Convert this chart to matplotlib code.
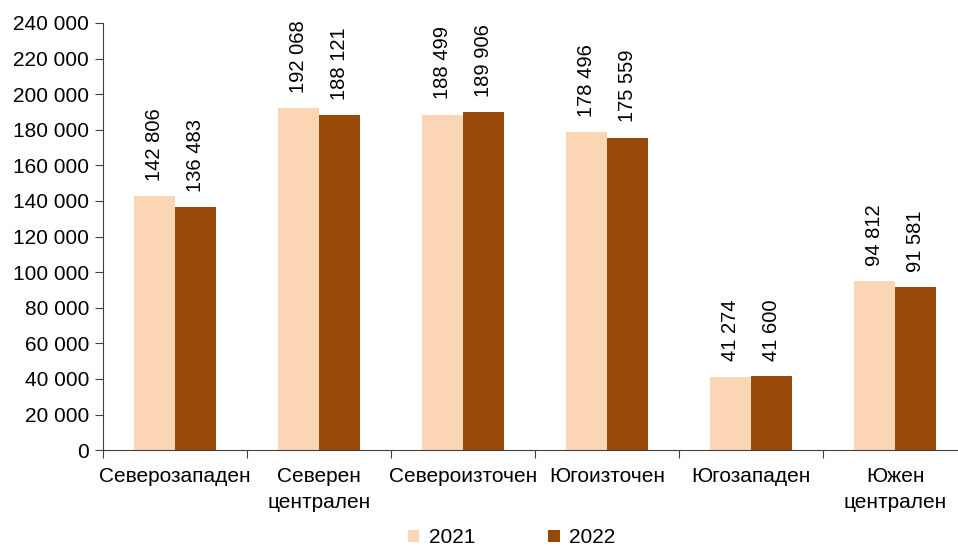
import numpy as np
import matplotlib.pyplot as plt

regions = ['Северозападен', 'Северен\nцентрален', 'Североизточен',
           'Югоизточен', 'Югозападен', 'Южен\nцентрален']
vals_2021 = [142806, 192068, 188499, 178496, 41274, 94812]
vals_2022 = [136483, 188121, 189906, 175559, 41600, 91581]
years = ['2021', '2022']
colors = ['#FCD5B5', '#984807']

plt.rcParams['font.family'] = ['Liberation Sans', 'DejaVu Sans']
plt.rcParams['font.size'] = 15


def fmt(v):
    return '{:,}'.format(int(v)).replace(',', ' ')


fig = plt.figure(figsize=(9.58, 5.47), dpi=100)
ax = fig.add_axes([0.1075, 0.177, 0.9019, 0.781])

x = np.arange(len(regions))
w = 0.285
b1 = ax.bar(x - w / 2, vals_2021, w, color=colors[0], label=years[0])
b2 = ax.bar(x + w / 2, vals_2022, w, color=colors[1], label=years[1])

for bars, vals in [(b1, vals_2021), (b2, vals_2022)]:
    for r, v in zip(bars, vals):
        ax.annotate(fmt(v), (r.get_x() + r.get_width() / 2, v),
                    xytext=(0, 11), textcoords='offset points',
                    rotation=90, ha='center', va='bottom', fontsize=14.5)

ax.set_ylim(0, 240000)
ax.set_yticks(np.arange(0, 240001, 20000))
ax.set_yticklabels([fmt(t) for t in np.arange(0, 240001, 20000)])
ax.set_xlim(-0.5, len(regions) - 0.5)
ax.set_xticks(np.arange(-0.5, len(regions), 1.0))
ax.set_xticklabels([])
ax.set_xticks(x, minor=True)
ax.set_xticklabels(regions, minor=True, linespacing=1.45)
ax.tick_params(axis='x', which='minor', length=0, pad=12)
ax.tick_params(axis='x', which='major', length=6, direction='out', color='#404040')
ax.tick_params(axis='y', length=6, direction='out', color='#404040', pad=4)

for s in ['top', 'right']:
    ax.spines[s].set_visible(False)
for s in ['left', 'bottom']:
    ax.spines[s].set_color('#404040')

fig.legend(handles=[b1, b2], labels=years, loc='lower center',
           bbox_to_anchor=(0.534, -0.035), ncol=2, frameon=False,
           handlelength=0.55, handleheight=0.55, handletextpad=0.45,
           columnspacing=3.5, fontsize=15)

fig.savefig('out.png', dpi=100)
